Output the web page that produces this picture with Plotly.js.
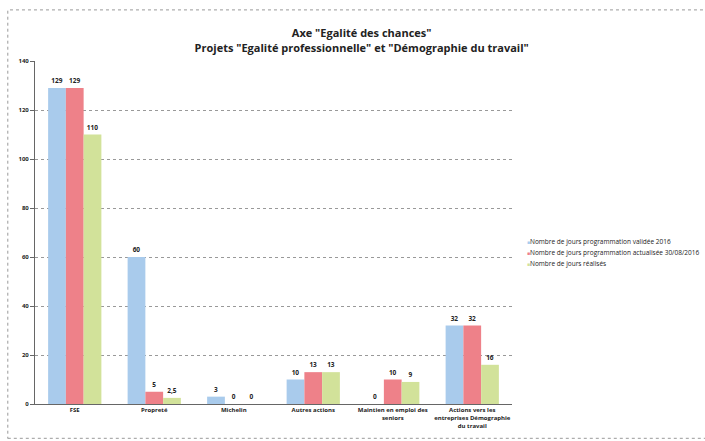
<!DOCTYPE html>
<html><head><meta charset="utf-8">
<script src="https://cdn.plot.ly/plotly-3.0.1.min.js"></script>
<style>body{margin:0;background:#fff}#c{width:705px;height:441px}</style>
</head><body><div id="c"></div>
<script>
const categories = ["FSE", "Propreté", "Michelin", "Autres actions", "Maintien en emploi des<br>seniors", "Actions vers les<br>entreprises Démographie<br>du travail"];
const seriesNames = ["Nombre de jours programmation validée 2016", "Nombre de jours programmation actualisée 30/08/2016", "Nombre de jours réalisés"];
const valideeValues = [129, 60, 3, 10, 0, 32];
const actualiseeValues = [129, 5, 0, 13, 10, 32];
const realisesValues = [110, 2.5, 0, 13, 9, 16];
const yTicks = [0, 20, 40, 60, 80, 100, 120, 140];

const colors = ["#a9cbec", "#ee8189", "#d2e29a"];
const allSeries = [valideeValues, actualiseeValues, realisesValues];
const font = "Open Sans, Liberation Sans, sans-serif";

const traces = allSeries.map((vals, i) => ({
  type: "bar",
  x: categories,
  y: vals,
  name: seriesNames[i],
  marker: {color: colors[i]},
  text: vals.map(v => "<b>" + String(v).replace(".", ",") + "</b>"),
  textposition: "outside",
  cliponaxis: false,
  textfont: {family: font, size: 6.5, color: "#222"},
  showlegend: false
}));

const legendY = [0.475, 0.443, 0.411];
const annotations = seriesNames.map((n, i) => ({
  xref: "paper", yref: "paper", x: 1.027, y: legendY[i], xanchor: "left", yanchor: "middle",
  showarrow: false, align: "left",
  text: "<span style='color:" + colors[i] + ";font-size:5px'>■</span>" + n,
  font: {family: font, size: 6.5, color: "#222"}
}));

const layout = {
  width: 705, height: 441,
  margin: {l: 35, r: 193, t: 61, b: 37},
  paper_bgcolor: "#fff", plot_bgcolor: "#fff",
  title: {text: "<b>Axe \"Egalité des chances\"<br>Projets \"Egalité professionnelle\" et \"Démographie du travail\"</b>",
          font: {family: font, size: 11, color: "#222"}, x: 0.513, xref: "container", xanchor: "center",
          y: 0.915, yref: "container", yanchor: "middle"},
  bargap: 0.33, bargroupgap: 0,
  xaxis: {tickfont: {family: font, size: 6, color: "#222", weight: "bold"}, showline: true, linecolor: "#666", linewidth: 1,
          ticks: "", fixedrange: true},
  yaxis: {range: [0, 140], tickvals: yTicks, tickfont: {family: font, size: 6, color: "#222", weight: "bold"},
          showline: true, linecolor: "#666", linewidth: 1, ticks: "outside", ticklen: 4, tickcolor: "#666",
          gridcolor: "#999", griddash: "dot", gridwidth: 1, zeroline: false, fixedrange: true},
  annotations: annotations,
  shapes: [{type: "rect", xref: "paper", yref: "paper", x0: -0.057, x1: 1.6, y0: -0.1, y1: 1.149,
            line: {color: "#999", width: 1, dash: "dot"}}],
  showlegend: false
};
Plotly.newPlot("c", traces, layout, {displayModeBar: false, staticPlot: true});
</script></body></html>
